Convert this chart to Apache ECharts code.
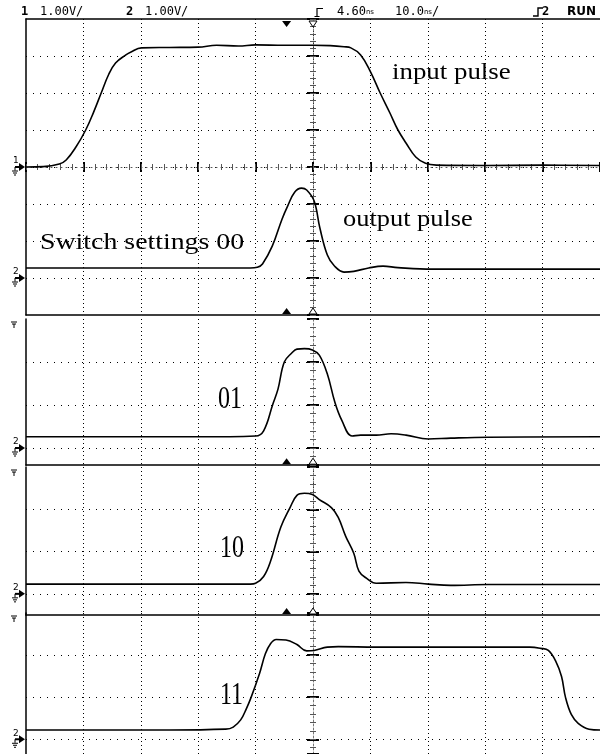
<!DOCTYPE html>
<html>
<head>
<meta charset="utf-8">
<script src="https://cdn.jsdelivr.net/npm/echarts@6/dist/echarts.min.js"></script>
<style>
  html, body { margin: 0; background: #fff; }
  #scope { width: 600px; height: 754px; }
</style>
</head>
<body>
<div id="scope"></div>
<script>
// time in ns from the screen centre, level in volts above the channel ground
var inputPulse = [
  [-50, 0.0], [-47, 0.01], [-44.2, 0.08], [-43.0, 0.19], [-41.3, 0.54], [-39.6, 1.0],
  [-38.2, 1.49], [-36.9, 2.0], [-35.6, 2.5], [-34.4, 2.81], [-32.6, 3.03], [-31.7, 3.11],
  [-29.9, 3.22], [-25, 3.23], [-20, 3.24], [-16.8, 3.29], [-13, 3.27], [-10, 3.3],
  [-5, 3.29], [0, 3.29], [3, 3.28], [5.4, 3.25], [6.6, 3.22], [8.3, 3.03], [10.0, 2.58],
  [11.7, 2.0], [13.4, 1.46], [14.8, 1.0], [16.2, 0.65], [17.9, 0.27], [19.6, 0.1],
  [21.5, 0.05], [30, 0.04], [40, 0.05], [50, 0.04]
];
var output00 = [
  [-50, 0.27], [-20, 0.27], [-10.9, 0.27], [-9.7, 0.29], [-8.8, 0.38], [-7.1, 0.86],
  [-5.4, 1.59], [-4.4, 1.95], [-3.2, 2.32], [-2.0, 2.43], [-1.1, 2.38], [0.2, 2.08],
  [1.2, 1.35], [2.5, 0.62], [3.7, 0.33], [5.4, 0.16], [7.1, 0.18], [9.7, 0.27],
  [12.2, 0.32], [14.8, 0.28], [20.8, 0.24], [35, 0.24], [50, 0.24]
];
var output01 = [
  [-50, 0.26], [-20, 0.26], [-10.0, 0.28], [-8.6, 0.4], [-7.0, 1.02], [-6.1, 1.37],
  [-5.0, 2.0], [-3.7, 2.21], [-2.8, 2.3], [-1.5, 2.31], [-0.1, 2.28], [1.1, 2.16],
  [2.5, 1.72], [3.8, 1.07], [5.0, 0.65], [6.8, 0.28], [8.3, 0.3], [11.0, 0.3],
  [13.6, 0.33], [16.2, 0.3], [20.1, 0.21], [24.0, 0.23], [30.5, 0.25], [50, 0.26]
];
var output10 = [
  [-50, 0.23], [-20, 0.23], [-10.9, 0.23], [-10.0, 0.25], [-8.6, 0.41], [-7.4, 0.77],
  [-5.6, 1.58], [-4.0, 2.04], [-2.8, 2.33], [-1.5, 2.38], [-0.1, 2.35], [1.1, 2.23],
  [3.2, 2.04], [4.4, 1.81], [5.7, 1.36], [7.1, 0.96], [8.0, 0.54], [9.3, 0.37],
  [11.0, 0.25], [16.2, 0.27], [20.1, 0.23], [24.0, 0.2], [30.5, 0.22], [50, 0.22]
];
var output11 = [
  [-50, 0.22], [-25, 0.22], [-15.2, 0.24], [-13.9, 0.29], [-12.6, 0.46], [-11.6, 0.73],
  [-10.8, 0.99], [-9.3, 1.57], [-8.3, 2.03], [-7.4, 2.27], [-6.4, 2.37], [-4.7, 2.36],
  [-2.8, 2.25], [-1.1, 2.1], [0.2, 2.11], [2.5, 2.19], [4.4, 2.2], [11.0, 2.19],
  [24.0, 2.19], [37.8, 2.19], [39.7, 2.16], [41.0, 2.11], [42.3, 1.85], [43.3, 1.49],
  [44.0, 0.99], [45.0, 0.59], [46.2, 0.38], [48.1, 0.24], [50, 0.22]
];
var triggerDelayNs = 4.6;   // trigger point sits 4.60 ns left of centre
var ch2OffsetTop = -3;      // channel 2 ground in the top screen, in divisions

var panelLabels = ['Switch settings 00', '01', '10', '11'];
var traceLabels = ['input pulse', 'output pulse'];

// layout of the four stacked screens
var panelTops = [19, 319, 467, 613];
var panelHeights = [296, 146.2, 148, 142.4];
var yRanges = [[-4, 4], [-0.4, 3], [-0.5, 3], [-0.35, 3]];

var traces = [
  { panel: 0, data: inputPulse, offset: 0 },
  { panel: 0, data: output00, offset: ch2OffsetTop },
  { panel: 1, data: output01, offset: 0 },
  { panel: 2, data: output10, offset: 0 },
  { panel: 3, data: output11, offset: 0 }
];
var grounds = [
  { panel: 0, ch: '1', level: 0 },
  { panel: 0, ch: '2', level: ch2OffsetTop },
  { panel: 1, ch: '2', level: 0 },
  { panel: 2, ch: '2', level: 0 },
  { panel: 3, ch: '2', level: 0 }
];

var grid = [], xAxis = [], yAxis = [], series = [];
var mainX = [], mainY = [];
var dotH = { color: '#000', width: 1, type: [1, 6] };
var dotV = { color: '#000', width: 1, type: [1, 3] };
var border = { color: '#000', width: 1.5 };

panelTops.forEach(function (top, i) {
  var lo = yRanges[i][0], hi = yRanges[i][1], span = hi - lo;
  grid.push({ left: 26, top: top, width: 585, height: panelHeights[i] });

  mainY[i] = yAxis.length;
  yAxis.push({
    type: 'value', gridIndex: i, min: lo, max: hi, splitNumber: Math.floor(span),
    axisLine: { show: true, onZero: false, lineStyle: border },
    axisTick: { show: false }, axisLabel: { show: false },
    splitLine: { show: true, showMinLine: false, showMaxLine: false, lineStyle: dotH }
  });
  mainX[i] = xAxis.length;
  xAxis.push({
    type: 'value', gridIndex: i, min: -50, max: 50, interval: 10,
    axisLine: { show: i < 3, onZero: false, lineStyle: border },
    axisTick: { show: false }, axisLabel: { show: false },
    splitLine: { show: true, showMinLine: false, showMaxLine: false, lineStyle: dotV }
  });
  if (i === 0) {
    xAxis.push({
      type: 'value', gridIndex: 0, position: 'top', min: -50, max: 50,
      axisLine: { show: true, onZero: false, lineStyle: border },
      axisTick: { show: false }, axisLabel: { show: false }, splitLine: { show: false }
    });
  }

  // graduated centre lines: [inside, minor]
  [[false, false], [true, false], [false, true], [true, true]].forEach(function (c) {
    var inside = c[0], minor = c[1];
    yAxis.push({
      type: 'value', gridIndex: i, min: lo, max: hi,
      splitNumber: minor ? Math.round(span * 5) : Math.floor(span),
      axisLine: { show: !inside && !minor, onZero: true, onZeroAxisIndex: mainX[i],
        lineStyle: { color: '#777', width: 1, type: [2, 2] } },
      axisTick: { show: true, inside: inside, length: minor ? 3 : 6,
        lineStyle: { color: minor ? '#555' : '#000', width: minor ? 1 : 2 } },
      axisLabel: { show: false }, splitLine: { show: false }
    });
    if (i === 0) {
      xAxis.push({
        type: 'value', gridIndex: 0, min: -50, max: 50, interval: minor ? 2 : 10,
        axisLine: { show: !inside && !minor, onZero: true, onZeroAxisIndex: mainY[0],
          lineStyle: { color: '#555', width: 1, type: [1, 4] } },
        axisTick: { show: true, inside: inside, length: minor ? 3 : 5,
          lineStyle: { color: minor ? '#555' : '#000', width: minor ? 1 : 2 } },
        axisLabel: { show: false }, splitLine: { show: false }
      });
    }
  });
});

traces.forEach(function (tr) {
  series.push({
    type: 'line',
    xAxisIndex: mainX[tr.panel], yAxisIndex: mainY[tr.panel],
    data: tr.data.map(function (p) { return [p[0], p[1] + tr.offset]; }),
    showSymbol: false, symbol: 'none', smooth: 0.4,
    lineStyle: { color: '#000', width: 1.6 },
    silent: true, z: 5
  });
});

var chart = echarts.init(document.getElementById('scope'));
chart.setOption({
  backgroundColor: '#fff',
  animation: false,
  grid: grid, xAxis: xAxis, yAxis: yAxis, series: series
});

function px(panel, t, v) {
  return chart.convertToPixel({ xAxisIndex: mainX[panel], yAxisIndex: mainY[panel] }, [t, v]);
}
function txt(x, y, text, font, extra) {
  var o = { type: 'text', x: x, y: y, z: 20,
    style: { text: text, font: font, fill: '#000', align: 'left', verticalAlign: 'middle',
      textAlign: 'left', textVerticalAlign: 'middle' } };
  if (extra) { for (var k in extra) { o[k] = extra[k]; } }
  return o;
}
function seg(points, color, w) {
  return { type: 'polyline', z: 20, shape: { points: points },
    style: { stroke: color || '#000', lineWidth: w || 1, fill: null } };
}

var g = [];
var mono = '12px "DejaVu Sans Mono"', monoB = 'bold 12px "DejaVu Sans Mono"';
// status line
g.push(txt(21, 12, '1', monoB));
g.push(txt(40, 12, '1.00V/', mono));
g.push(txt(126, 12, '2', monoB));
g.push(txt(145, 12, '1.00V/', mono));
g.push(seg([[323, 8.5], [317, 8.5], [317, 16]], '#000', 1.2));
g.push(seg([[314.5, 16.5], [319.5, 16.5]], '#000', 1));
var nsRich = { s: { font: '7px "DejaVu Sans"', fill: '#000' } };
var t1 = txt(337, 12, '4.60{s|ns}', mono); t1.style.rich = nsRich; g.push(t1);
var t2 = txt(395, 12, '10.0{s|ns}/', mono); t2.style.rich = nsRich; g.push(t2);
g.push(seg([[533, 16], [538, 16], [538, 8], [543, 8]], '#000', 1.4));
g.push(txt(542, 12, '2', monoB));
g.push(txt(567, 12, 'RUN', 'bold 12px "DejaVu Sans"'));

// annotations
var serif = '24px "Liberation Serif"';
g.push(txt(392, 73, traceLabels[0], serif, { scaleX: 1.12 }));
g.push(txt(343, 220, traceLabels[1], serif, { scaleX: 1.1 }));
g.push(txt(40, 243, panelLabels[0], serif, { scaleX: 1.16 }));
g.push(txt(218, 400, panelLabels[1], serif, { scaleY: 1.3 }));
g.push(txt(220, 549, panelLabels[2], serif, { scaleY: 1.3 }));
g.push(txt(220, 696, panelLabels[3], serif, { scaleY: 1.3 }));

// channel ground markers
grounds.forEach(function (m) {
  var p = px(m.panel, -50, m.level), x = p[0], y = p[1];
  g.push(txt(x - 13, y - 6, m.ch, '9px "DejaVu Sans"'));
  g.push({ type: 'polygon', z: 20, shape: { points: [[x - 7, y - 4], [x - 1, y], [x - 7, y + 4]] }, style: { fill: '#000' } });
  g.push(seg([[x - 11, y], [x - 7, y]], '#000', 2));
  g.push(seg([[x - 11, y], [x - 11, y + 3.5]]));
  g.push(seg([[x - 14, y + 4], [x - 8, y + 4]]));
  g.push(seg([[x - 13, y + 6], [x - 9, y + 6]]));
  g.push(seg([[x - 12, y + 8], [x - 10, y + 8]]));
});
// channel 1 off-screen marks on the lower screens
for (var i = 1; i < 4; i++) {
  var q = px(i, -50, yRanges[i][1]);
  g.push(seg([[q[0] - 15, q[1] + 3], [q[0] - 9, q[1] + 3]]));
  g.push(seg([[q[0] - 14, q[1] + 5], [q[0] - 10, q[1] + 5]]));
  g.push(seg([[q[0] - 12, q[1] + 5], [q[0] - 12, q[1] + 9]]));
}
// trigger point and time reference marks
var tp = px(0, -triggerDelayNs, 4), tr0 = px(0, 0, 4);
g.push({ type: 'polygon', z: 20, shape: { points: [[tp[0] - 4.5, tp[1] + 2], [tp[0] + 4.5, tp[1] + 2], [tp[0], tp[1] + 8]] }, style: { fill: '#000' } });
g.push({ type: 'polygon', z: 20, shape: { points: [[tr0[0] - 4, tr0[1] + 2], [tr0[0] + 4, tr0[1] + 2], [tr0[0], tr0[1] + 8]] }, style: { fill: '#fff', stroke: '#000', lineWidth: 1 } });
for (var j = 0; j < 3; j++) {
  var bp = px(j, -triggerDelayNs, yRanges[j][0]), br = px(j, 0, yRanges[j][0]);
  g.push({ type: 'polygon', z: 20, shape: { points: [[bp[0] - 4.5, bp[1] - 1], [bp[0] + 4.5, bp[1] - 1], [bp[0], bp[1] - 7]] }, style: { fill: '#000' } });
  g.push({ type: 'polygon', z: 20, shape: { points: [[br[0] - 4, br[1] - 1], [br[0] + 4, br[1] - 1], [br[0], br[1] - 7]] }, style: { fill: '#fff', stroke: '#000', lineWidth: 1 } });
}

chart.setOption({ graphic: { elements: g } });
</script>
</body>
</html>
